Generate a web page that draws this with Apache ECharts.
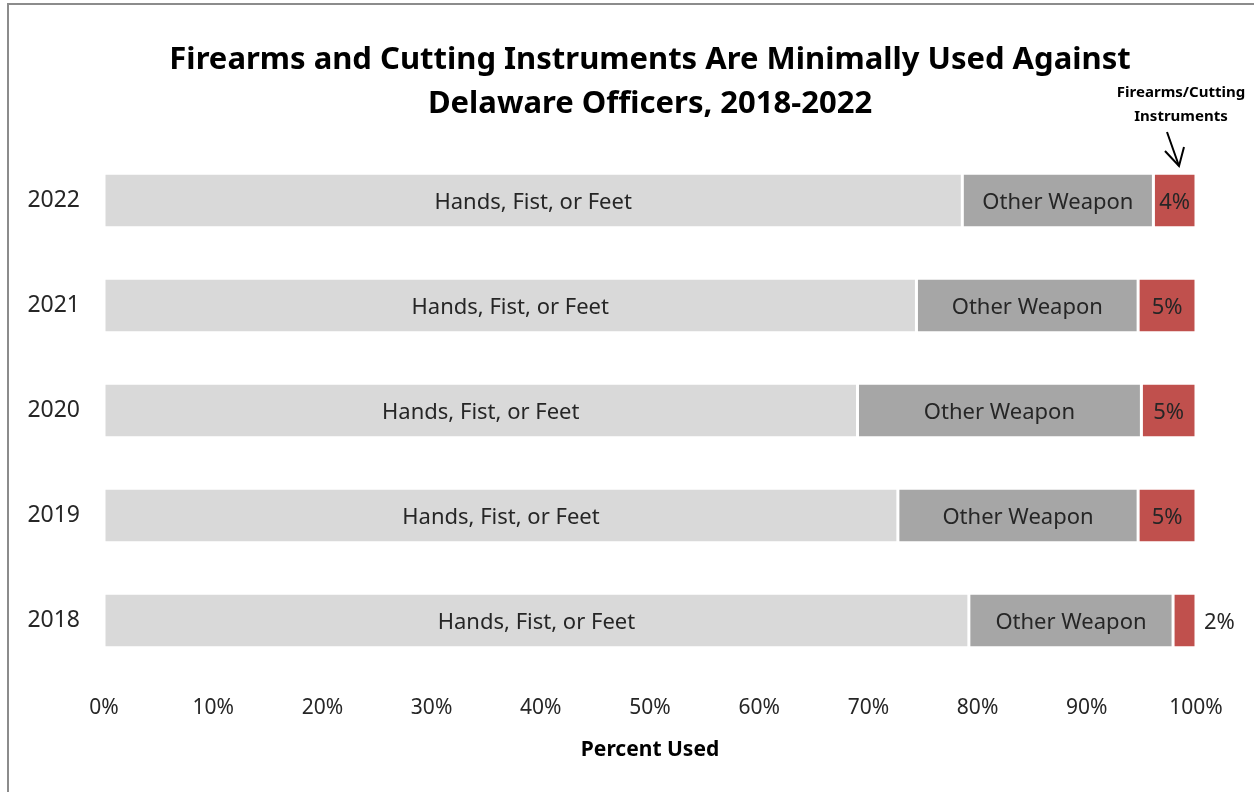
<!DOCTYPE html>
<html>
<head>
<meta charset="utf-8">
<script src="https://cdn.jsdelivr.net/npm/echarts@6/dist/echarts.min.js"></script>
<style>
	html, body { margin: 0; padding: 0; background: #fff; }
	#frame {
		position: absolute; left: 7px; top: 3px; width: 1260px; height: 800px;
		border: 2px solid #8c8c8c; box-sizing: border-box;
	}
	#chart { position: absolute; left: 0; top: 0; width: 1254px; height: 792px; }
</style>
</head>
<body>
<div id="frame"></div>
<div id="chart"></div>
<script>
// 年份（从下到上）
const years = ['2018', '2019', '2020', '2021', '2022'];
// 各类武器占比 (%)
const handsFistFeet = [79.2, 72.7, 69.0, 74.4, 78.6];
const otherWeapon = [18.7, 22.0, 26.0, 20.3, 17.5];
const firearmsCutting = [2.1, 5.3, 5.0, 5.3, 3.9];
const xTicks = [0, 10, 20, 30, 40, 50, 60, 70, 80, 90, 100];

const font = '"Noto Sans", "Open Sans", sans-serif';
const textColor = '#262626';

const chart = echarts.init(document.getElementById('chart'));

function segment(name, values, color, labelFn) {
	return {
		name: name,
		type: 'bar',
		stack: 'total',
		barWidth: '52%',
		data: values.map(v => {
			const item = { value: v };
			// 太窄的条把标签放到外面
			if (v < 3) item.label = { position: 'right', distance: 8, color: textColor };
			return item;
		}),
		itemStyle: { color: color, borderColor: '#fff', borderWidth: 1.5 },
		label: {
			show: true,
			position: 'inside',
			offset: [0, 2],
			color: textColor,
			fontFamily: font,
			fontSize: 22,
			formatter: labelFn
		}
	};
}

chart.setOption({
	animation: false,
	title: {
		text: 'Firearms and Cutting Instruments Are Minimally Used Against\nDelaware Officers, 2018-2022',
		left: 645,
		textAlign: 'center',
		top: 33,
		textStyle: { fontFamily: font, fontWeight: 'bold', fontSize: 31, lineHeight: 44, color: '#000' }
	},
	grid: { left: 104, right: 58, top: 148, bottom: 119 },
	xAxis: {
		type: 'value',
		min: 0,
		max: 100,
		interval: 10,
		name: 'Percent Used',
		nameLocation: 'middle',
		nameGap: 67,
		nameTextStyle: { fontFamily: font, fontWeight: 'bold', fontSize: 21, color: '#000' },
		axisLine: { show: false },
		axisTick: { show: false },
		splitLine: { show: false },
		axisLabel: {
			margin: 25,
			fontFamily: font,
			fontSize: 21,
			color: textColor,
			formatter: v => xTicks.includes(v) ? v + '%' : ''
		}
	},
	yAxis: {
		type: 'category',
		data: years,
		axisLine: { show: false },
		axisTick: { show: false },
		axisLabel: { margin: 24, fontFamily: font, fontSize: 23, color: textColor }
	},
	series: [
		segment('Hands, Fist, or Feet', handsFistFeet, '#d9d9d9', () => 'Hands, Fist, or Feet'),
		segment('Other Weapon', otherWeapon, '#a6a6a6', () => 'Other Weapon'),
		segment('Firearms/Cutting Instruments', firearmsCutting, '#c0504d', p => Math.round(p.value) + '%')
	],
	graphic: [
		{
			type: 'text',
			x: 1181,
			y: 81,
			style: {
				text: 'Firearms/Cutting\nInstruments',
				align: 'center',
				verticalAlign: 'top',
				fill: '#000',
				font: 'bold 15px ' + font,
				lineHeight: 24
			}
		},
		{
			type: 'polyline',
			shape: { points: [[1167, 132], [1179, 166]] },
			style: { stroke: '#000', lineWidth: 2, fill: null }
		},
		{
			type: 'polyline',
			shape: { points: [[1165, 151], [1179, 166], [1184, 147]] },
			style: { stroke: '#000', lineWidth: 2, fill: null }
		}
	]
});
</script>
</body>
</html>
